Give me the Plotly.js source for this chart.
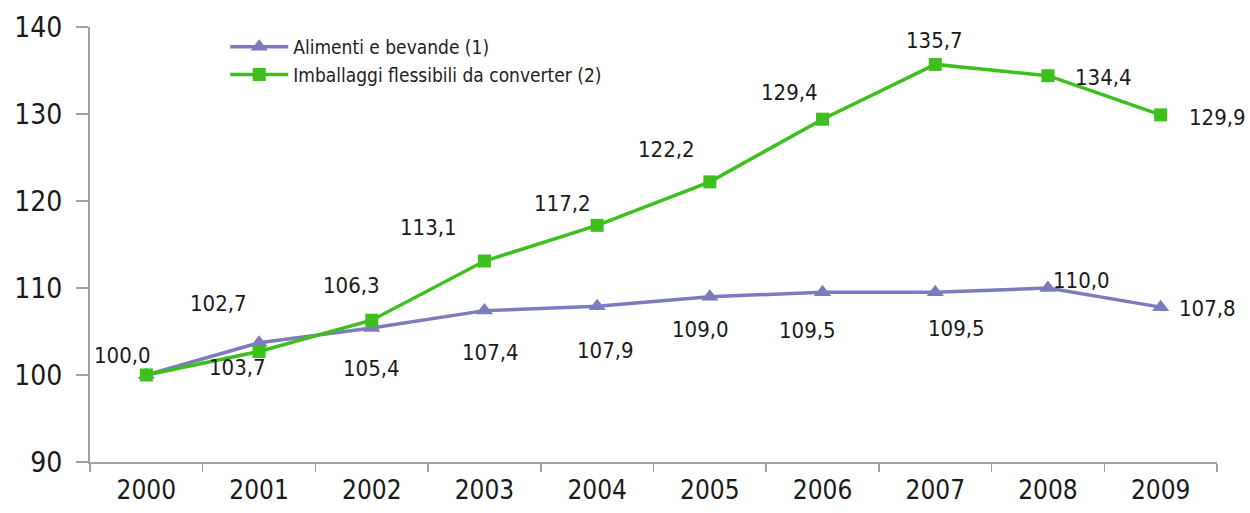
<!DOCTYPE html>
<html>
<head>
<meta charset="utf-8">
<script src="https://cdn.plot.ly/plotly-3.0.1.min.js"></script>
<style>html,body{margin:0;padding:0;background:#fff;}#chart{width:1250px;height:513px;}</style>
</head>
<body>
<div id="chart"></div>
<script>
// ---- data ----
const years = ['2000','2001','2002','2003','2004','2005','2006','2007','2008','2009'];
const alimenti = [100.0, 103.7, 105.4, 107.4, 107.9, 109.0, 109.5, 109.5, 110.0, 107.8];
const imballaggi = [100.0, 102.7, 106.3, 113.1, 117.2, 122.2, 129.4, 135.7, 134.4, 129.9];
const alimentiName = 'Alimenti e bevande (1)';
const imballaggiName = 'Imballaggi flessibili da converter (2)';
const yTicks = [90, 100, 110, 120, 130, 140];

// ---- label placement (style, px offsets from each point) ----
const greenShift = [[-24,-20],[-41,-48],[-20,-35],[-56,-34],[-35,-22],[-43,-32],[-33,-27],[-1,-24],[56,2],[57,3]];
const purpleShift = [null,[-22,25],[0,40],[6,42],[8,44],[-9,33],[-15,38],[21,36],[34,-8],[47,1]];

const fmt = v => v.toFixed(1).replace('.', ',');
const GREEN = '#3dbf1c';
const PURPLE = '#7c7cbc';
const FONT = 'DejaVu Sans Condensed';
const labelFont = {family: FONT, size: 22, color: '#1a1a1a'};

const traces = [
  {x: years, y: alimenti, name: alimentiName, type: 'scatter', mode: 'lines+markers',
   line: {color: PURPLE, width: 3.5}, marker: {symbol: 'triangle-up', size: 15, color: PURPLE}},
  {x: years, y: imballaggi, name: imballaggiName, type: 'scatter', mode: 'lines+markers',
   line: {color: GREEN, width: 3.5}, marker: {symbol: 'square', size: 13, color: GREEN}}
];

// annotations use the category index on the category axis
const annotations = [];
years.forEach((yr, i) => {
  const g = greenShift[i];
  annotations.push({x: i, y: imballaggi[i], xref: 'x', yref: 'y', text: fmt(imballaggi[i]), showarrow: false,
    xshift: g[0], yshift: -g[1], font: labelFont});
  const p = purpleShift[i];
  if (p) annotations.push({x: i, y: alimenti[i], xref: 'x', yref: 'y', text: fmt(alimenti[i]), showarrow: false,
    xshift: p[0], yshift: -p[1], font: labelFont});
});

const layout = {
  width: 1250, height: 513,
  margin: {l: 90, r: 33, t: 27, b: 51},
  paper_bgcolor: '#ffffff', plot_bgcolor: '#ffffff',
  showlegend: true,
  legend: {x: 0.12, y: 0.998, xanchor: 'left', yanchor: 'top', bgcolor: 'rgba(0,0,0,0)',
    font: {family: FONT, size: 19, color: '#222'}, itemwidth: 58},
  xaxis: {type: 'category', range: [-0.5, 9.5], showgrid: false, zeroline: false,
    showline: true, linecolor: '#a0a0a0', linewidth: 2,
    ticks: 'outside', tickson: 'boundaries', ticklen: 8, tickcolor: '#a0a0a0', tickwidth: 1.5,
    tickfont: {family: FONT, size: 26, color: '#1a1a1a'}, ticklabelstandoff: 4},
  yaxis: {range: [90, 140], tickvals: yTicks, showgrid: false, zeroline: false,
    showline: true, linecolor: '#a0a0a0', linewidth: 2,
    ticks: 'outside', ticklen: 12, tickcolor: '#a0a0a0', tickwidth: 1.5,
    tickfont: {family: FONT, size: 28, color: '#1a1a1a'}, ticklabelstandoff: 8},
  annotations: annotations
};

Plotly.newPlot('chart', traces, layout, {displayModeBar: false, staticPlot: true});
</script>
</body>
</html>
